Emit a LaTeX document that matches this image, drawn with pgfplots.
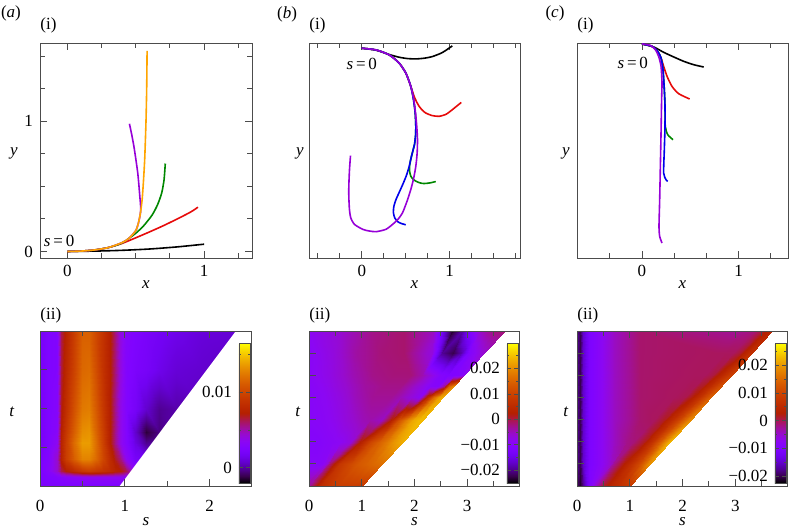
\documentclass[border=0pt]{standalone}
\usepackage{fontspec}
\setmainfont{Liberation Serif}
\usepackage{pgfplots}
\pgfplotsset{compat=1.18}
\definecolor{cred}{RGB}{230,10,10}
\definecolor{cgreen}{RGB}{0,135,0}
\definecolor{cblue}{RGB}{0,0,235}
\definecolor{cpurple}{RGB}{150,0,215}
\definecolor{corange}{RGB}{255,165,0}
\pgfplotsset{
  colormap={gnu}{rgb=(0,0,0) rgb=(0.2236,0.0001,0.309) rgb=(0.3162,0.001,0.5878) rgb=(0.3873,0.0034,0.809) rgb=(0.4472,0.008,0.9511) rgb=(0.5,0.0156,1) rgb=(0.5477,0.027,0.9511) rgb=(0.5916,0.0429,0.809) rgb=(0.6325,0.064,0.5878) rgb=(0.6708,0.0911,0.309) rgb=(0.7071,0.125,0) rgb=(0.7416,0.1664,0) rgb=(0.7746,0.216,0) rgb=(0.8062,0.2746,0) rgb=(0.8367,0.343,0) rgb=(0.866,0.4219,0) rgb=(0.8944,0.512,0) rgb=(0.922,0.6141,0) rgb=(0.9487,0.729,0) rgb=(0.9747,0.8574,0) rgb=(1,1,0)},
  frm/.style={scale only axis, clip mode=individual, axis line style={black!70, line width=0.5bp},
    every tick/.style={black!70, line width=0.45bp},
    major tick length=3.5bp, minor tick length=2.5bp, tick align=inside,
    every axis x label/.style={at={(rel axis cs:0.5,0)}, anchor=center},
  },
  toprow/.style={frm, height=107.5bp, every axis x label/.append style={yshift=-13.5bp}},
  botrow/.style={frm, height=77.5bp, colormap name=gnu, axis on top,
    every axis x label/.append style={yshift=-18bp},
    xticklabel style={yshift=-3.8bp}},
  crv/.style={line width=0.8bp, smooth, tension=0.4},
  cbar/.style={colorbar left, colorbar shift/.style={xshift=-1bp},
    colorbar style={at={(parent axis.north east)}, anchor=north east,
    yshift=-6bp, width=5.5bp, height=70bp, scale only axis,
    yticklabel pos=left, scaled y ticks=false,
    axis line style={black!70, line width=0.4bp}, every tick/.style={black!70, line width=0.4bp},
    major tick length=1.8bp, minor tick length=1.2bp, tick align=inside}},
}
\begin{document}
\begin{tikzpicture}[font=\fontsize{8.5bp}{10bp}\selectfont]
\path[use as bounding box] (0,0) rectangle (395bp,-266bp);

% ---------------- (a)(i)
\begin{axis}[toprow, at={(20bp,-21.5bp)}, anchor=north west, width=106bp,
  xmin=-0.2, xmax=1.35, ymin=-0.05, ymax=1.6,
  xtick={0,1}, xticklabels={0,1}, minor xtick={0.25,0.5,0.75,1.25},
  ytick={0,1}, yticklabels={0,1}, minor ytick={0.25,0.5,0.75,1.25,1.5},
  xlabel={\textit{x}},
  every axis y label/.style={at={(rel axis cs:0,0.5)}, anchor=center, xshift=-13bp, yshift=-1.5bp},
  ylabel={\textit{y}}]
\addplot[crv, black] coordinates {(0,0) (0.2,0.003) (0.4,0.009) (0.6,0.019) (0.8,0.035) (1.0,0.056)};
\addplot[crv, cred] coordinates {(0,0) (0.1,0.003) (0.2,0.012) (0.3,0.03) (0.4,0.062) (0.5,0.105) (0.6,0.15) (0.7,0.197) (0.8,0.248) (0.9,0.302) (0.955,0.34)};
\addplot[crv, cgreen] coordinates {(0,0) (0.1,0.003) (0.2,0.012) (0.3,0.03) (0.4,0.065) (0.5,0.14) (0.56,0.2) (0.62,0.28) (0.66,0.36) (0.69,0.45) (0.707,0.55) (0.716,0.675)};
\addplot[crv, cpurple] coordinates {(0,0) (0.1,0.003) (0.2,0.012) (0.3,0.03) (0.4,0.068) (0.45,0.1) (0.5,0.16) (0.52,0.22) (0.535,0.3) (0.535,0.36) (0.53,0.42) (0.523,0.51) (0.515,0.6) (0.502,0.7) (0.486,0.81) (0.47,0.9) (0.454,0.98)};
\addplot[crv, corange] coordinates {(0,0) (0.1,0.003) (0.2,0.012) (0.3,0.03) (0.4,0.068) (0.45,0.1) (0.5,0.16) (0.52,0.22) (0.535,0.3) (0.547,0.4) (0.557,0.55) (0.566,0.72) (0.575,1.0) (0.58,1.25) (0.583,1.54)};
\node at (axis cs:-0.06,0.082) {\textit{s}\,=\,0};
\node[anchor=west, inner sep=0pt, yshift=9bp] at (rel axis cs:0,1) {(i)};
\node[inner sep=0pt, xshift=-14.5bp, yshift=15bp] at (rel axis cs:0,1) {(\textit{a})};
\end{axis}

% ---------------- (b)(i)
\begin{axis}[toprow, at={(154.5bp,-21.5bp)}, anchor=north west, width=105.5bp,
  xmin=-0.6, xmax=1.8, ymin=-2.4, ymax=0.06,
  xtick={0,1}, xticklabels={0,1}, minor xtick={-0.5,-0.25,0.25,0.5,0.75,1.25,1.5,1.75},
  ytick=\empty, minor ytick={0,-0.25,-0.5,-0.75,-1,-1.25,-1.5,-1.75,-2,-2.25},
  xlabel={\textit{x}},
  every axis y label/.style={at={(rel axis cs:0,0.5)}, anchor=center, xshift=-4.5bp, yshift=-1.5bp},
  ylabel={\textit{y}}]
\addplot[crv, black] coordinates {(0,0) (0.162,-0.022) (0.313,-0.072) (0.426,-0.103) (0.52,-0.118) (0.615,-0.122) (0.71,-0.114) (0.804,-0.095) (0.917,-0.049) (1.03,0.027)};
\addplot[crv, cred] coordinates {(0,0) (0.162,-0.019) (0.313,-0.076) (0.426,-0.171) (0.502,-0.285) (0.558,-0.437) (0.596,-0.551) (0.625,-0.615) (0.653,-0.665) (0.69,-0.71) (0.728,-0.741) (0.8,-0.77) (0.879,-0.779) (0.96,-0.755) (1.03,-0.703) (1.132,-0.62)};
\addplot[crv, cgreen] coordinates {(0,0) (0.162,-0.019) (0.313,-0.076) (0.426,-0.171) (0.502,-0.285) (0.558,-0.437) (0.589,-0.589) (0.608,-0.741) (0.615,-0.894) (0.612,-1.0) (0.6,-1.1) (0.585,-1.16) (0.56,-1.26) (0.545,-1.34) (0.545,-1.41) (0.558,-1.464) (0.585,-1.5) (0.615,-1.52) (0.66,-1.54) (0.709,-1.548) (0.78,-1.54) (0.842,-1.525)};
\addplot[crv, cblue] coordinates {(0,0) (0.162,-0.019) (0.313,-0.076) (0.426,-0.171) (0.502,-0.285) (0.558,-0.437) (0.589,-0.589) (0.608,-0.741) (0.615,-0.894) (0.612,-1.0) (0.6,-1.1) (0.585,-1.16) (0.56,-1.26) (0.54,-1.35) (0.51,-1.45) (0.47,-1.55) (0.43,-1.64) (0.39,-1.73) (0.365,-1.81) (0.36,-1.88) (0.375,-1.94) (0.41,-1.985) (0.45,-2.005) (0.5,-2.02)};
\addplot[crv, cpurple] coordinates {(0,0) (0.162,-0.019) (0.313,-0.076) (0.426,-0.171) (0.502,-0.285) (0.558,-0.437) (0.592,-0.589) (0.612,-0.741) (0.626,-0.9) (0.634,-1.046) (0.63,-1.2) (0.615,-1.35) (0.59,-1.49) (0.558,-1.616) (0.515,-1.75) (0.464,-1.882) (0.41,-1.96) (0.351,-2.015) (0.275,-2.072) (0.162,-2.099) (0.08,-2.09) (0.011,-2.072) (-0.083,-2.015) (-0.125,-1.94) (-0.14,-1.844) (-0.147,-1.7) (-0.147,-1.578) (-0.14,-1.4) (-0.128,-1.228)};
\node at (axis cs:0,-0.18) {\textit{s}\,=\,0};
\node[anchor=west, inner sep=0pt, yshift=9bp] at (rel axis cs:0,1) {(i)};
\node[inner sep=0pt, xshift=-11bp, yshift=14.5bp] at (rel axis cs:0,1) {(\textit{b})};
\end{axis}

% ---------------- (c)(i)
\begin{axis}[toprow, at={(288.5bp,-21.5bp)}, anchor=north west, width=105.5bp,
  xmin=-0.672, xmax=1.51, ymin=-2.214, ymax=0.0103,
  xtick={0,1}, xticklabels={0,1}, minor xtick={-0.3333,0.3333,0.6667,1.3333},
  ytick=\empty, minor ytick={-0.1667,-0.3333,-0.5,-0.6667,-0.8333,-1,-1.1667,-1.3333,-1.5,-1.6667,-1.8333,-2,-2.1667},
  xlabel={\textit{x}},
  every axis y label/.style={at={(rel axis cs:0,0.5)}, anchor=center, xshift=-5.5bp, yshift=-1.5bp},
  ylabel={\textit{y}}]
\addplot[crv, black] coordinates {(0,0) (0.121,-0.031) (0.224,-0.086) (0.328,-0.134) (0.431,-0.179) (0.534,-0.214) (0.638,-0.238)};
\addplot[crv, cred] coordinates {(0,0) (0.103,-0.024) (0.162,-0.076) (0.197,-0.145) (0.224,-0.231) (0.259,-0.334) (0.31,-0.438) (0.379,-0.514) (0.493,-0.569)};
\addplot[crv, cgreen] coordinates {(0,0) (0.103,-0.024) (0.162,-0.076) (0.197,-0.145) (0.217,-0.266) (0.231,-0.472) (0.238,-0.645) (0.241,-0.852) (0.266,-0.938) (0.321,-0.99)};
\addplot[crv, cblue] coordinates {(0,0) (0.103,-0.024) (0.162,-0.076) (0.197,-0.145) (0.217,-0.266) (0.231,-0.472) (0.238,-0.645) (0.238,-0.852) (0.231,-1.093) (0.224,-1.334) (0.248,-1.403) (0.266,-1.421)};
\addplot[crv, cpurple] coordinates {(0,0) (0.086,-0.014) (0.138,-0.059) (0.172,-0.128) (0.197,-0.231) (0.207,-0.403) (0.203,-0.576) (0.197,-0.921) (0.19,-1.266) (0.183,-1.61) (0.176,-1.886) (0.183,-1.99) (0.207,-2.059)};
\node at (axis cs:-0.095,-0.197) {\textit{s}\,=\,0};
\node[anchor=west, inner sep=0pt, yshift=9bp] at (rel axis cs:0,1) {(i)};
\node[inner sep=0pt, xshift=-11bp, yshift=15bp] at (rel axis cs:0,1) {(\textit{c})};
\end{axis}

% ---------------- (a)(ii)
\begin{axis}[botrow, at={(20bp,-165.5bp)}, anchor=north west, width=106bp,
  xmin=0, xmax=2.5, ymin=0, ymax=4,
  xtick={0,1,2}, xticklabels={0,1,2}, minor xtick={0.5,1.5},
  ytick={1,2,3}, yticklabels={},
  xlabel={\textit{s}},
  every axis y label/.style={at={(rel axis cs:0,0.5)}, anchor=center, xshift=-14bp, yshift=-1.75bp},
  ylabel={\textit{t}},
  point meta min=-0.002, point meta max=0.0165,
  cbar, colorbar style={ytick={0,0.01}, yticklabels={0,0.01}, minor ytick={0.005,0.015}}]
\addplot[surf, shader=interp, mesh/cols=21, point meta=explicit] table[x=s, y=t, meta=v, row sep=\\] {
s t v\\
0 0 0.0024\\ 0.1 0 0.0024\\ 0.2 0 0.0024\\ 0.25 0 0.0024\\ 0.31 0 0.0024\\ 0.4 0 0.0024\\ 0.5 0 0.0024\\ 0.58 0 0.0024\\ 0.66 0 0.0024\\ 0.74 0 0.0024\\ 0.82 0 0.0024\\ 0.88 0 0.0024\\ 0.94 0 0.0024\\ 1.02 0 0.0024\\ 1.12 0 0.0024\\ 1.25 0 0.0024\\ 1.4 0 0.0024\\ 1.6 0 0.0024\\ 1.9 0 0.0024\\ 2.2 0 0.0024\\ 2.5 0 0.0024\\
0 0.22 0.0024\\ 0.1 0.22 0.0026\\ 0.2 0.22 0.0028\\ 0.25 0.22 0.0030\\ 0.31 0.22 0.0032\\ 0.4 0.22 0.0034\\ 0.5 0.22 0.0036\\ 0.58 0.22 0.0036\\ 0.66 0.22 0.0036\\ 0.74 0.22 0.0036\\ 0.82 0.22 0.0036\\ 0.88 0.22 0.0036\\ 0.94 0.22 0.0036\\ 1.02 0.22 0.0032\\ 1.12 0.22 0.0026\\ 1.25 0.22 0.0026\\ 1.4 0.22 0.0026\\ 1.6 0.22 0.0026\\ 1.9 0.22 0.0026\\ 2.2 0.22 0.0026\\ 2.5 0.22 0.0026\\
0 0.4 0.0024\\ 0.1 0.4 0.0030\\ 0.2 0.4 0.0045\\ 0.25 0.4 0.0063\\ 0.31 0.4 0.0073\\ 0.4 0.4 0.0082\\ 0.5 0.4 0.0091\\ 0.58 0.4 0.0095\\ 0.66 0.4 0.0091\\ 0.74 0.4 0.0087\\ 0.82 0.4 0.0082\\ 0.88 0.4 0.0076\\ 0.94 0.4 0.0073\\ 1.02 0.4 0.0063\\ 1.12 0.4 0.0036\\ 1.25 0.4 0.0026\\ 1.4 0.4 0.0026\\ 1.6 0.4 0.0026\\ 1.9 0.4 0.0026\\ 2.2 0.4 0.0026\\ 2.5 0.4 0.0026\\
0 0.7 0.0023\\ 0.1 0.7 0.0028\\ 0.2 0.7 0.0045\\ 0.25 0.7 0.0076\\ 0.31 0.7 0.0095\\ 0.4 0.7 0.0113\\ 0.5 0.7 0.0128\\ 0.58 0.7 0.0128\\ 0.66 0.7 0.0117\\ 0.74 0.7 0.0100\\ 0.82 0.7 0.0082\\ 0.88 0.7 0.0069\\ 0.94 0.7 0.0058\\ 1.02 0.7 0.0036\\ 1.12 0.7 0.0021\\ 1.25 0.7 0.0017\\ 1.4 0.7 0.0017\\ 1.6 0.7 0.0017\\ 1.9 0.7 0.0017\\ 2.2 0.7 0.0017\\ 2.5 0.7 0.0017\\
0 1.1 0.0021\\ 0.1 1.1 0.0026\\ 0.2 1.1 0.0036\\ 0.25 1.1 0.0076\\ 0.31 1.1 0.0095\\ 0.4 1.1 0.0119\\ 0.5 1.1 0.0137\\ 0.58 1.1 0.0137\\ 0.66 1.1 0.0119\\ 0.74 1.1 0.0097\\ 0.82 1.1 0.0073\\ 0.88 1.1 0.0056\\ 0.94 1.1 0.0039\\ 1.02 1.1 0.0028\\ 1.12 1.1 0.0013\\ 1.25 1.1 -0.0002\\ 1.4 1.1 0.0002\\ 1.6 1.1 0.0002\\ 1.9 1.1 0.0002\\ 2.2 1.1 0.0002\\ 2.5 1.1 0.0002\\
0 1.4 0.0021\\ 0.1 1.4 0.0026\\ 0.2 1.4 0.0032\\ 0.25 1.4 0.0073\\ 0.31 1.4 0.0091\\ 0.4 1.4 0.0113\\ 0.5 1.4 0.0132\\ 0.58 1.4 0.0134\\ 0.66 1.4 0.0115\\ 0.74 1.4 0.0095\\ 0.82 1.4 0.0073\\ 0.88 1.4 0.0056\\ 0.94 1.4 0.0039\\ 1.02 1.4 0.0028\\ 1.12 1.4 0.0008\\ 1.25 1.4 -0.0013\\ 1.4 1.4 -0.0004\\ 1.6 1.4 0.0002\\ 1.9 1.4 0.0002\\ 2.2 1.4 0.0002\\ 2.5 1.4 0.0002\\
0 2 0.0021\\ 0.1 2 0.0026\\ 0.2 2 0.0030\\ 0.25 2 0.0069\\ 0.31 2 0.0085\\ 0.4 2 0.0106\\ 0.5 2 0.0124\\ 0.58 2 0.0126\\ 0.66 2 0.0110\\ 0.74 2 0.0091\\ 0.82 2 0.0073\\ 0.88 2 0.0056\\ 0.94 2 0.0039\\ 1.02 2 0.0028\\ 1.12 2 0.0021\\ 1.25 2 0.0008\\ 1.4 2 -0.0002\\ 1.6 2 0.0002\\ 1.9 2 0.0004\\ 2.2 2 0.0004\\ 2.5 2 0.0004\\
0 3 0.0021\\ 0.1 3 0.0026\\ 0.2 3 0.0028\\ 0.25 3 0.0065\\ 0.31 3 0.0080\\ 0.4 3 0.0098\\ 0.5 3 0.0117\\ 0.58 3 0.0119\\ 0.66 3 0.0104\\ 0.74 3 0.0087\\ 0.82 3 0.0073\\ 0.88 3 0.0058\\ 0.94 3 0.0041\\ 1.02 3 0.0028\\ 1.12 3 0.0024\\ 1.25 3 0.0021\\ 1.4 3 0.0015\\ 1.6 3 0.0010\\ 1.9 3 0.0008\\ 2.2 3 0.0006\\ 2.5 3 0.0006\\
0 4 0.0021\\ 0.1 4 0.0026\\ 0.2 4 0.0028\\ 0.25 4 0.0063\\ 0.31 4 0.0076\\ 0.4 4 0.0095\\ 0.5 4 0.0113\\ 0.58 4 0.0113\\ 0.66 4 0.0100\\ 0.74 4 0.0087\\ 0.82 4 0.0073\\ 0.88 4 0.0058\\ 0.94 4 0.0041\\ 1.02 4 0.0030\\ 1.12 4 0.0026\\ 1.25 4 0.0023\\ 1.4 4 0.0019\\ 1.6 4 0.0015\\ 1.9 4 0.0011\\ 2.2 4 0.0010\\ 2.5 4 0.0008\\
};
\addplot[fill=white, draw=none] coordinates {(0.8715,-0.2) (2.7,-0.2) (2.7,4.2) (2.3785,4.2)} --cycle;
\node[anchor=west, inner sep=0pt, yshift=8bp] at (rel axis cs:0,1) {(ii)};
\end{axis}

% ---------------- (b)(ii)
\begin{axis}[botrow, at={(154.5bp,-165.5bp)}, anchor=north west, width=105.5bp,
  xmin=0, xmax=4, ymin=0, ymax=7,
  xtick={0,1,2,3}, xticklabels={0,1,2,3}, minor xtick={0.5,1.5,2.5,3.5},
  ytick={1,2,3,4,5,6}, yticklabels={},
  xlabel={\textit{s}},
  every axis y label/.style={at={(rel axis cs:0,0.5)}, anchor=center, xshift=-5.5bp, yshift=-1.75bp},
  ylabel={\textit{t}},
  point meta min=-0.025, point meta max=0.030,
  cbar, colorbar style={ytick={-0.02,-0.01,0,0.01,0.02}, yticklabels={−0.02,−0.01,0,0.01,0.02}, minor ytick={-0.015,-0.005,0.005,0.015,0.025}}]
\addplot[surf, shader=interp, mesh/cols=13, point meta=explicit] table[x=s, y=t, meta=v, row sep=\\] {
s t v\\
-0.5 0 -0.0030\\ -0.4 0 -0.0030\\ -0.3 0 -0.0030\\ -0.2 0 -0.0030\\ -0.1 0 -0.0030\\ 0 0 -0.0030\\ 0.2 0 0.0053\\ 0.4 0 0.0080\\ 0.55 0 0.0091\\ 0.7 0 0.0091\\ 0.82 0 0.0091\\ 0.92 0 0.0086\\ 1.0 0 0.0080\\
0 1 -0.0096\\ 0.08 1 -0.0096\\ 0.16 1 -0.0096\\ 0.24 1 -0.0091\\ 0.32 1 -0.0069\\ 0.387 1 -0.0019\\ 0.587 1 0.0080\\ 0.787 1 0.0113\\ 0.937 1 0.0135\\ 1.087 1 0.0146\\ 1.207 1 0.0157\\ 1.307 1 0.0163\\ 1.387 1 0.0168\\
0 2 -0.0102\\ 0.15 2 -0.0102\\ 0.3 2 -0.0096\\ 0.45 2 -0.0091\\ 0.6 2 -0.0085\\ 0.774 2 -0.0069\\ 0.974 2 0.0025\\ 1.174 2 0.0108\\ 1.324 2 0.0146\\ 1.474 2 0.0179\\ 1.594 2 0.0207\\ 1.694 2 0.0223\\ 1.774 2 0.0234\\
0 3 -0.0096\\ 0.25 3 -0.0091\\ 0.5 3 -0.0080\\ 0.75 3 -0.0063\\ 1.0 3 -0.0047\\ 1.161 3 -0.0041\\ 1.361 3 -0.0052\\ 1.561 3 0.0025\\ 1.711 3 0.0124\\ 1.861 3 0.0190\\ 1.981 3 0.0229\\ 2.081 3 0.0245\\ 2.161 3 0.0245\\
0 4 -0.0096\\ 0.3 4 -0.0085\\ 0.6 4 -0.0069\\ 0.9 4 -0.0047\\ 1.2 4 -0.0030\\ 1.548 4 -0.0030\\ 1.748 4 -0.0047\\ 1.948 4 -0.0069\\ 2.098 4 -0.0085\\ 2.248 4 0.0053\\ 2.368 4 0.0163\\ 2.468 4 0.0218\\ 2.548 4 0.0234\\
0 4.5 -0.0096\\ 0.35 4.5 -0.0080\\ 0.7 4.5 -0.0058\\ 1.05 4.5 -0.0036\\ 1.4 4.5 -0.0025\\ 1.742 4.5 -0.0025\\ 1.942 4.5 -0.0047\\ 2.142 4.5 -0.0074\\ 2.292 4.5 -0.0096\\ 2.442 4.5 -0.0102\\ 2.562 4.5 -0.0030\\ 2.662 4.5 0.0146\\ 2.742 4.5 0.0201\\
0 5 -0.0091\\ 0.4 5 -0.0074\\ 0.8 5 -0.0047\\ 1.2 5 -0.0025\\ 1.6 5 -0.0019\\ 1.935 5 -0.0019\\ 2.135 5 -0.0041\\ 2.335 5 -0.0074\\ 2.485 5 -0.0102\\ 2.635 5 -0.0113\\ 2.755 5 -0.0113\\ 2.855 5 -0.0107\\ 2.935 5 -0.0085\\
0 6 -0.0091\\ 0.45 6 -0.0069\\ 0.9 6 -0.0036\\ 1.35 6 -0.0019\\ 1.8 6 -0.0014\\ 2.323 6 -0.0069\\ 2.523 6 -0.0195\\ 2.723 6 -0.0223\\ 2.873 6 -0.0184\\ 3.023 6 -0.0113\\ 3.143 6 -0.0085\\ 3.243 6 -0.0069\\ 3.323 6 -0.0058\\
0 7 -0.0085\\ 0.6 7 -0.0058\\ 1.2 7 -0.0025\\ 1.8 7 -0.0014\\ 2.35 7 -0.0052\\ 2.71 7 -0.0234\\ 2.91 7 -0.0184\\ 3.11 7 -0.0096\\ 3.26 7 -0.0052\\ 3.41 7 -0.0030\\ 3.53 7 -0.0019\\ 3.63 7 -0.0019\\ 3.71 7 -0.0019\\
};
\node[anchor=west, inner sep=0pt, yshift=8bp] at (rel axis cs:0,1) {(ii)};
\end{axis}

% ---------------- (c)(ii)
\begin{axis}[botrow, at={(288.5bp,-165.5bp)}, anchor=north west, width=105.5bp,
  xmin=0, xmax=4, ymin=0, ymax=7,
  xtick={0,1,2,3}, xticklabels={0,1,2,3}, minor xtick={0.5,1.5,2.5,3.5},
  ytick={1,2,3,4,5,6}, yticklabels={},
  xlabel={\textit{s}},
  every axis y label/.style={at={(rel axis cs:0,0.5)}, anchor=center, xshift=-5.5bp, yshift=-1.75bp},
  ylabel={\textit{t}},
  point meta min=-0.0225, point meta max=0.028,
  cbar, colorbar style={ytick={-0.02,-0.01,0,0.01,0.02}, yticklabels={−0.02,−0.01,0,0.01,0.02}, minor ytick={-0.015,-0.005,0.005,0.015,0.025}}]
\addplot[surf, shader=interp, mesh/cols=14, point meta=explicit] table[x=s, y=t, meta=v, row sep=\\] {
s t v\\
0 0 -0.0195\\ 0.05 0 -0.0210\\ 0.12 0 -0.0175\\ 0.22 0 -0.0104\\ 0.25 0 -0.0094\\ 0.27 0 -0.0084\\ 0.29 0 -0.0074\\ 0.3 0 -0.0063\\ 0.5 0 0.0012\\ 0.65 0 0.0043\\ 0.78 0 0.0058\\ 0.88 0 0.0068\\ 0.95 0 0.0073\\ 1.0 0 0.0078\\
0 1 -0.0175\\ 0.05 1 -0.0200\\ 0.12 1 -0.0149\\ 0.22 1 -0.0104\\ 0.4 1 -0.0084\\ 0.55 1 -0.0063\\ 0.65 1 -0.0043\\ 0.686 1 -0.0023\\ 0.886 1 0.0028\\ 1.036 1 0.0068\\ 1.166 1 0.0108\\ 1.266 1 0.0149\\ 1.336 1 0.0179\\ 1.386 1 0.0194\\
0 2 -0.0175\\ 0.05 2 -0.0200\\ 0.12 2 -0.0149\\ 0.22 2 -0.0104\\ 0.4 2 -0.0084\\ 0.7 2 -0.0043\\ 0.95 2 -0.0018\\ 1.071 2 -0.0013\\ 1.271 2 0.0017\\ 1.421 2 0.0068\\ 1.551 2 0.0129\\ 1.651 2 0.0179\\ 1.721 2 0.0214\\ 1.771 2 0.0230\\
0 3 -0.0175\\ 0.05 3 -0.0200\\ 0.12 3 -0.0149\\ 0.22 3 -0.0104\\ 0.4 3 -0.0084\\ 0.7 3 -0.0043\\ 1.2 3 -0.0008\\ 1.457 3 -0.0003\\ 1.657 3 0.0017\\ 1.807 3 0.0058\\ 1.937 3 0.0103\\ 2.037 3 0.0144\\ 2.107 3 0.0174\\ 2.157 3 0.0189\\
0 4 -0.0175\\ 0.05 4 -0.0200\\ 0.12 4 -0.0149\\ 0.22 4 -0.0104\\ 0.4 4 -0.0084\\ 0.7 4 -0.0043\\ 1.2 4 -0.0008\\ 1.843 4 -0.0003\\ 2.043 4 0.0002\\ 2.193 4 0.0028\\ 2.323 4 0.0068\\ 2.423 4 0.0103\\ 2.493 4 0.0129\\ 2.543 4 0.0139\\
0 5 -0.0175\\ 0.05 5 -0.0200\\ 0.12 5 -0.0149\\ 0.22 5 -0.0104\\ 0.4 5 -0.0084\\ 0.7 5 -0.0043\\ 1.2 5 -0.0008\\ 2.229 5 -0.0003\\ 2.429 5 -0.0003\\ 2.579 5 0.0007\\ 2.709 5 0.0038\\ 2.809 5 0.0063\\ 2.879 5 0.0083\\ 2.929 5 0.0093\\
0 6 -0.0175\\ 0.05 6 -0.0200\\ 0.12 6 -0.0149\\ 0.22 6 -0.0104\\ 0.4 6 -0.0084\\ 0.7 6 -0.0043\\ 1.2 6 -0.0008\\ 2.614 6 -0.0003\\ 2.814 6 -0.0003\\ 2.964 6 -0.0003\\ 3.094 6 0.0012\\ 3.194 6 0.0038\\ 3.264 6 0.0058\\ 3.314 6 0.0063\\
0 7 -0.0175\\ 0.05 7 -0.0200\\ 0.12 7 -0.0149\\ 0.22 7 -0.0104\\ 0.4 7 -0.0084\\ 0.7 7 -0.0043\\ 1.2 7 -0.0008\\ 3.0 7 -0.0023\\ 3.2 7 -0.0018\\ 3.35 7 -0.0013\\ 3.48 7 0.0007\\ 3.58 7 0.0028\\ 3.65 7 0.0038\\ 3.70 7 0.0043\\
};
\node[anchor=west, inner sep=0pt, yshift=8bp] at (rel axis cs:0,1) {(ii)};
\end{axis}
\end{tikzpicture}
\end{document}
